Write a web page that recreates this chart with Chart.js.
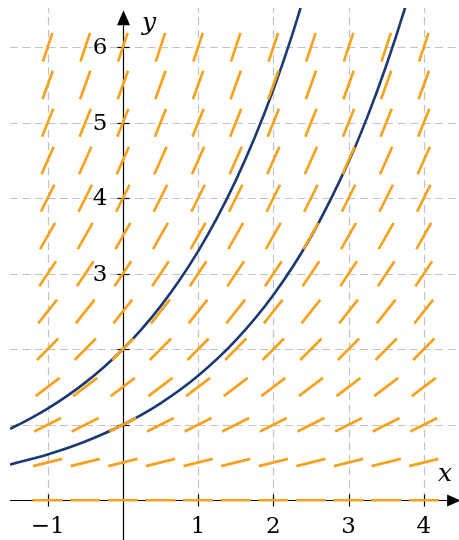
<!DOCTYPE html>
<html>
<head>
<meta charset="utf-8">
<script src="https://cdn.jsdelivr.net/npm/chart.js@4/dist/chart.umd.min.js"></script>
<style>
html,body{margin:0;padding:0;background:#fff;}
#wrap{width:459px;height:540px;}
.fl{font-family:"DejaVu Serif";position:absolute;left:-999px;}
</style>
</head>
<body>
<span class="fl">0123456789 xy</span><span class="fl" style="font-style:italic">xy</span>
<div id="wrap"><canvas id="c" width="459" height="540"></canvas></div>
<script>
// ---- data ----
const xCols = [-1, -0.5, 0, 0.5, 1, 1.5, 2, 2.5, 3, 3.5, 4];
const yRows = [0, 0.5, 1, 1.5, 2, 2.5, 3, 3.5, 4, 4.5, 5, 5.5, 6];
const rowSlopes = [0, 0.25, 0.5, 0.75, 1, 1.25, 1.5, 1.75, 2, 2.25, 2.5, 2.75, 3];
const segLength = 0.4;

const upperX = [-1.5, -1.25, -1, -0.75, -0.5, -0.25, 0, 0.25, 0.5, 0.75, 1, 1.25, 1.5, 1.75, 2, 2.25, 2.5];
const upperY = [0.945, 1.071, 1.213, 1.375, 1.558, 1.765, 2.0, 2.266, 2.568, 2.910, 3.297, 3.736, 4.234, 4.797, 5.437, 6.161, 6.98];
const lowerX = [-1.5, -1, -0.5, 0, 0.5, 1, 1.5, 2, 2.5, 3, 3.25, 3.5, 3.75, 4];
const lowerY = [0.472, 0.607, 0.779, 1.0, 1.284, 1.649, 2.117, 2.718, 3.490, 4.482, 5.078, 5.755, 6.52, 7.39];

const xTickVals = [-1, 1, 2, 3, 4];
const xTickLabels = ['\u22121', '1', '2', '3', '4'];
const yTickVals = [3, 4, 5, 6];
const yTickLabels = ['3', '4', '5', '6'];
const xTickMarks = [-1, 1, 2, 3, 4];
const yTickMarks = [1, 2, 3, 4, 5, 6];
const gridXVals = [-1, 1, 2, 3, 4];
const gridYVals = [1, 2, 3, 4, 5, 6];

// ---- build datasets ----
const segData = [];
yRows.forEach((yv, i) => {
  const m = rowSlopes[i];
  const n = Math.sqrt(1 + m * m);
  const dx = segLength / 2 / n, dy = segLength / 2 * m / n;
  xCols.forEach(xv => {
    segData.push({x: xv - dx, y: yv - dy});
    segData.push({x: xv + dx, y: yv + dy});
    segData.push({x: xv, y: null});
  });
});
const upperData = upperX.map((v, i) => ({x: v, y: upperY[i]}));
const lowerData = lowerX.map((v, i) => ({x: v, y: lowerY[i]}));

const ORANGE = '#f6a21d';
const BLUE = '#1c3a72';
const SERIF = '"DejaVu Serif", "Liberation Serif", serif';

const axesPlugin = {
  id: 'axesPlugin',
  beforeDatasetsDraw(chart) {
    const ctx = chart.ctx;
    const xs = chart.scales.x, ys = chart.scales.y;
    const X = v => xs.getPixelForValue(v);
    const Y = v => ys.getPixelForValue(v);
    ctx.save();
    // grid
    ctx.strokeStyle = '#c2c2c2';
    ctx.lineWidth = 1.2;
    ctx.setLineDash([8, 4.5]);
    gridYVals.forEach(v => {
      const py = Math.round(Y(v)) + 0.5;
      ctx.beginPath(); ctx.moveTo(X(-1.5), py); ctx.lineTo(chart.width, py); ctx.stroke();
    });
    gridXVals.forEach(v => {
      const px = Math.round(X(v)) + 0.5;
      ctx.beginPath(); ctx.moveTo(px, Y(0)); ctx.lineTo(px, Y(6.52)); ctx.stroke();
    });
    ctx.setLineDash([]);
    // axes
    ctx.strokeStyle = '#000'; ctx.fillStyle = '#000'; ctx.lineWidth = 1.2;
    const y0 = Math.round(Y(0)) + 0.5, x0 = Math.round(X(0)) + 0.5;
    ctx.beginPath(); ctx.moveTo(X(-1.5), y0); ctx.lineTo(X(4.32), y0); ctx.stroke();
    ctx.beginPath(); ctx.moveTo(x0, chart.height); ctx.lineTo(x0, Y(6.29)); ctx.stroke();
    // arrows
    ctx.beginPath(); ctx.moveTo(X(4.49), y0); ctx.lineTo(X(4.31), y0 - 6); ctx.lineTo(X(4.31), y0 + 6); ctx.closePath(); ctx.fill();
    ctx.beginPath(); ctx.moveTo(x0, Y(6.49)); ctx.lineTo(x0 - 6.5, Y(6.29)); ctx.lineTo(x0 + 6.5, Y(6.29)); ctx.closePath(); ctx.fill();
    // tick marks
    xTickMarks.forEach(v => {
      const px = Math.round(X(v)) + 0.5;
      ctx.beginPath(); ctx.moveTo(px, y0 - 6); ctx.lineTo(px, y0 + 6); ctx.stroke();
    });
    yTickMarks.forEach(v => {
      const py = Math.round(Y(v)) + 0.5;
      ctx.beginPath(); ctx.moveTo(x0 - 6, py); ctx.lineTo(x0 + 6, py); ctx.stroke();
    });
    // tick labels
    ctx.font = '23px ' + SERIF;
    ctx.textAlign = 'center'; ctx.textBaseline = 'middle';
    xTickVals.forEach((v, i) => ctx.fillText(xTickLabels[i], X(v), y0 + 27));
    ctx.textAlign = 'right';
    yTickVals.forEach((v, i) => ctx.fillText(yTickLabels[i], x0 - 16, Y(v) + 1));
    // axis labels
    ctx.font = 'italic 25px ' + SERIF;
    ctx.textAlign = 'center';
    ctx.fillText('x', 445, 474);
    ctx.fillText('y', 149, 23);
    ctx.restore();
  }
};

const chart = new Chart(document.getElementById('c'), {
  type: 'line',
  data: {
    datasets: [
      {label: 'slope field', data: segData, borderColor: ORANGE, borderWidth: 2.7, pointRadius: 0, spanGaps: false, tension: 0, borderCapStyle: 'butt'},
      {label: 'y = 2e^{x/2}', data: upperData, borderColor: BLUE, borderWidth: 2.6, pointRadius: 0, cubicInterpolationMode: 'monotone'},
      {label: 'y = e^{x/2}', data: lowerData, borderColor: BLUE, borderWidth: 2.6, pointRadius: 0, cubicInterpolationMode: 'monotone'}
    ]
  },
  options: {
    responsive: false,
    animation: false,
    devicePixelRatio: 1,
    layout: {padding: {left: 10, right: 0, top: 8, bottom: 2}},
    plugins: {legend: {display: false}, tooltip: {enabled: false}},
    scales: {
      x: {type: 'linear', min: -1.5, max: 4.45, display: false},
      y: {type: 'linear', min: -0.5, max: 6.52, display: false}
    }
  },
  plugins: [axesPlugin]
});
if (document.fonts) {
  Promise.all([
    document.fonts.load('23px "DejaVu Serif"'),
    document.fonts.load('italic 25px "DejaVu Serif"')
  ]).then(() => chart.update()).catch(() => {});
}
</script>
</body>
</html>
